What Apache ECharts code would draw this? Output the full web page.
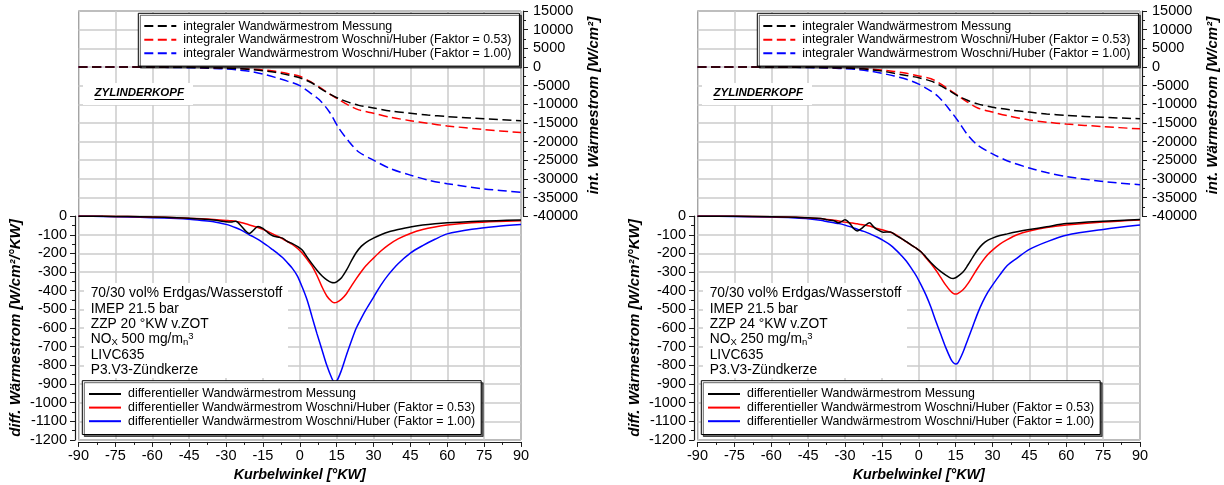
<!DOCTYPE html>
<html>
<head>
<meta charset="utf-8">
<script src="https://cdn.jsdelivr.net/npm/echarts@6/dist/echarts.min.js"></script>
<style>
  html, body { margin: 0; padding: 0; background: #fff; }
  #wrap { position: relative; width: 1224px; height: 485px; overflow: hidden; }
  .panel { position: absolute; top: 0; height: 485px; }
</style>
</head>
<body>
<div id="wrap">
  <div id="panelA" class="panel" style="left:0;width:612px"></div>
  <div id="panelB" class="panel" style="left:619px;width:605px"></div>
</div>
<script>
// ---------- Panel A: ZZP 20 °KW v.ZOT, NOx 500 ----------
const angleDiffA = [-90,-80,-70,-60,-50,-45,-40,-35,-30,-28,-26,-24,-22,-20.5,-19,-17,-15,-13,-11,-9,-7,-5,-3,-1,1,3,5,7,9,11,13,14,15,17,19,21,23,25,27,30,33,36,40,45,50,55,60,70,80,90];
const diffMessA  = [0,-1,-2,-4,-8,-11,-15,-21,-30,-32,-27,-50,-80,-93,-78,-55,-66,-88,-105,-112,-118,-136,-147,-162,-182,-220,-256,-290,-320,-342,-356,-357,-352,-330,-290,-240,-195,-162,-140,-118,-100,-85,-72,-58,-48,-41,-36,-29,-24,-21];
const diffWH053A = [0,-1,-2,-4,-8,-11,-14,-18,-23,-25,-28,-34,-41,-47,-53,-61,-71,-82,-95,-108,-121,-136,-152,-172,-198,-232,-268,-318,-378,-428,-458,-464,-462,-445,-416,-375,-335,-298,-265,-225,-187,-155,-122,-93,-72,-58,-48,-36,-29,-25];
const diffWH100A = [0,-2,-4,-8,-13,-17,-23,-30,-44,-52,-62,-74,-88,-100,-110,-125,-142,-160,-180,-200,-222,-250,-280,-320,-380,-450,-540,-630,-715,-800,-868,-888,-885,-825,-745,-670,-600,-548,-500,-435,-370,-315,-255,-198,-158,-124,-95,-70,-55,-45];

const angleIntA = [-90,-80,-70,-60,-50,-45,-40,-35,-30,-25,-20,-15,-10,-5,0,5,8,12,16,20,24,30,37,45,52,60,75,90];
const intMessA  = [0,0,-10,-20,-60,-100,-150,-230,-330,-480,-700,-1000,-1450,-2100,-2900,-4300,-5600,-7200,-8500,-9500,-10300,-11000,-11800,-12400,-12900,-13300,-13900,-14400];
const intWH053A = [0,0,-5,-15,-50,-80,-120,-190,-270,-400,-580,-800,-1150,-1750,-2500,-4200,-5400,-7200,-8800,-10300,-11500,-12400,-13500,-14400,-15100,-15800,-16800,-17600];
const intWH100A = [0,-10,-35,-80,-150,-210,-290,-400,-550,-800,-1200,-1900,-2800,-3800,-5000,-7300,-8800,-12000,-16500,-20000,-22800,-25000,-27300,-29000,-30300,-31300,-32700,-33600];

const infoA = ['70/30 vol% Erdgas/Wasserstoff', 'IMEP 21.5 bar', 'ZZP 20 °KW v.ZOT', 'NO{sub|X} 500 mg/m{sub|n}{sup|3}', 'LIVC635', 'P3.V3-Zündkerze'];

// ---------- Panel B: ZZP 24 °KW v.ZOT, NOx 250 ----------
const angleDiffB = [-90,-75,-60,-50,-45,-40,-37,-34.5,-32.5,-30,-28,-26.5,-25,-23.5,-22,-20,-18.5,-17,-14.5,-11.5,-9,-7,-5,-3,-1,1,3,5,7,9,11,13,14,15,16,18,20,22,24,26,28,30,33,36,40,45,52,60,75,90];
const diffMessB  = [0,-1,-3,-6,-9,-12,-20,-25,-36,-19,-40,-66,-79,-68,-52,-36,-55,-71,-86,-85,-106,-120,-137,-155,-172,-192,-220,-250,-275,-297,-316,-332,-334,-330,-322,-300,-262,-220,-180,-150,-130,-118,-104,-95,-84,-72,-57,-40,-27,-18];
const diffWH053B = [0,-1,-3,-6,-9,-13,-18,-22,-26,-32,-35,-38,-41,-45,-48,-53,-60,-66,-74,-86,-102,-120,-138,-155,-172,-192,-225,-255,-290,-330,-370,-403,-414,-418,-414,-395,-362,-320,-278,-240,-207,-182,-150,-126,-100,-80,-61,-48,-32,-21];
const diffWH100B = [0,-2,-5,-10,-14,-22,-30,-36,-40,-48,-56,-63,-70,-77,-83,-94,-103,-112,-130,-155,-185,-212,-242,-280,-320,-370,-425,-490,-565,-635,-705,-765,-785,-793,-785,-730,-660,-590,-520,-460,-410,-370,-315,-265,-225,-178,-138,-102,-71,-48];

const angleIntB = [-90,-80,-70,-60,-50,-45,-40,-35,-30,-25,-20,-15,-10,-5,0,5,8,12,16,20,24,30,37,45,52,60,75,90];
const intMessB  = [0,0,-5,-15,-50,-80,-130,-200,-300,-450,-700,-1100,-1700,-2300,-2900,-3800,-4700,-6200,-7800,-9000,-9900,-10800,-11500,-12100,-12600,-13000,-13500,-13900];
const intWH053B = [0,0,-5,-10,-40,-60,-100,-160,-240,-360,-540,-800,-1200,-1700,-2400,-3150,-4200,-5900,-7700,-9500,-11000,-12100,-13200,-14200,-14800,-15300,-16000,-16600];
const intWH100B = [0,-10,-25,-50,-100,-150,-220,-310,-480,-700,-1100,-1700,-2400,-3300,-4600,-6500,-8000,-11000,-14500,-18300,-21000,-23300,-25400,-27100,-28300,-29400,-30700,-31600];

const infoB = ['70/30 vol% Erdgas/Wasserstoff', 'IMEP 21.5 bar', 'ZZP 24 °KW v.ZOT', 'NO{sub|X} 250 mg/m{sub|n}{sup|3}', 'LIVC635', 'P3.V3-Zündkerze'];

// ---------- shared labels ----------
const diffNames = [
  'differentieller Wandwärmestrom Messung',
  'differentieller Wandwärmestrom Woschni/Huber (Faktor = 0.53)',
  'differentieller Wandwärmestrom Woschni/Huber (Faktor = 1.00)'
];
const intNames = [
  'integraler Wandwärmestrom Messung',
  'integraler Wandwärmestrom Woschni/Huber (Faktor = 0.53)',
  'integraler Wandwärmestrom Woschni/Huber (Faktor = 1.00)'
];
const seriesColors = ['#000000', '#ff0000', '#0000ff'];

const FONT = '"Liberation Sans", Arial, sans-serif';
// plot frame geometry; 23 horizontal grid steps shared by both value axes
const FRAME = { left: 78.5, top: 11, width: 442.5, step: 18.65 };

function pairs(xs, ys) { return xs.map((x, i) => [x, ys[i]]); }
// plain integers, no thousands separator
function plain(v) { return String(Math.round(v)); }

function buildPanel(el, p) {
  const chart = echarts.init(el, null, { renderer: 'canvas' });
  const S = FRAME.step;

  const tickFont = { color: '#000', fontFamily: FONT, fontSize: 14.5, formatter: plain,
                     showMinLabel: true, showMaxLabel: true, hideOverlap: false };
  const nameFont = { color: '#000', fontFamily: FONT, fontSize: 15, fontWeight: 'bold', fontStyle: 'italic' };
  const axisLine = { show: true, onZero: false, lineStyle: { color: '#1a1a1a', width: 1.2 } };
  const axisTick = { show: true, inside: false, length: 5, lineStyle: { color: '#1a1a1a', width: 1 } };
  const minorTick = { show: true, splitNumber: 2, length: 3, lineStyle: { color: '#1a1a1a', width: 1 } };
  const gridLine = { show: true, lineStyle: { color: '#cbcbcb', width: 1.5 } };

  const grid = [
    { left: FRAME.left, top: FRAME.top, width: FRAME.width, height: 23 * S, show: true,
      borderColor: '#333', borderWidth: 1, backgroundColor: 'transparent', containLabel: false, outerBoundsMode: 'none' },
    { left: FRAME.left, top: FRAME.top + 11 * S, width: FRAME.width, height: 12 * S, containLabel: false, outerBoundsMode: 'none' },
    { left: FRAME.left, top: FRAME.top, width: FRAME.width, height: 11 * S, containLabel: false, outerBoundsMode: 'none' }
  ];

  const xAxis = [
    { type: 'value', gridIndex: 0, min: -90, max: 90, interval: 15, offset: 2,
      axisLine, axisTick, minorTick, splitLine: gridLine,
      axisLabel: { ...tickFont, margin: 7 },
      name: 'Kurbelwinkel [°KW]', nameLocation: 'middle', nameGap: 26,
      nameTextStyle: { ...nameFont, fontSize: 14.3 }, nameMoveOverlap: false },
    { type: 'value', gridIndex: 1, min: -90, max: 90, show: false },
    { type: 'value', gridIndex: 2, min: -90, max: 90, show: false }
  ];

  const yAxis = [
    { type: 'value', gridIndex: 0, min: -1200, max: 1100, interval: 100,
      axisLine: { show: false }, axisTick: { show: false }, axisLabel: { show: false }, splitLine: gridLine },
    { type: 'value', gridIndex: 1, position: 'left', min: -1200, max: 0, interval: 100, offset: 3.5,
      axisLine, axisTick, minorTick, splitLine: { show: false },
      axisLabel: { ...tickFont, margin: 8 },
      name: 'diff. Wärmestrom [W/cm²/°KW]', nameLocation: 'middle', nameGap: 52,
      nameTextStyle: nameFont, nameMoveOverlap: false },
    { type: 'value', gridIndex: 2, position: 'right', min: -40000, max: 15000, interval: 5000, offset: 2,
      axisLine, axisTick, minorTick, splitLine: { show: false },
      axisLabel: { ...tickFont, margin: 10 },
      name: 'int. Wärmestrom [W/cm²]', nameLocation: 'middle', nameGap: 63,
      nameTextStyle: { ...nameFont, padding: [0, 0, 0, 16] }, nameMoveOverlap: false }
  ];

  const series = [];
  // blue underneath, black on top
  for (let i = 2; i >= 0; i--) {
    series.push({
      name: intNames[i], type: 'line', xAxisIndex: 2, yAxisIndex: 2,
      data: pairs(p.angleInt, p.int[i]), symbol: 'none', smooth: 0.3, clip: false,
      lineStyle: { color: seriesColors[i], width: 1.5, type: [9, 4.5] },
      itemStyle: { color: seriesColors[i] }
    });
  }
  for (let i = 2; i >= 0; i--) {
    series.push({
      name: diffNames[i], type: 'line', xAxisIndex: 1, yAxisIndex: 1,
      data: pairs(p.angleDiff, p.diff[i]), symbol: 'none', smooth: 0.3, clip: false,
      lineStyle: { color: seriesColors[i], width: 1.5 },
      itemStyle: { color: seriesColors[i] }
    });
  }

  const legendBase = {
    orient: 'vertical', itemGap: 0, itemWidth: 32, itemHeight: 13.6,
    backgroundColor: '#fff', borderColor: '#000', borderWidth: 1,
    shadowColor: 'rgba(0,0,0,0.6)', shadowBlur: 0, shadowOffsetX: 2, shadowOffsetY: 2,
    selectedMode: false,
    itemStyle: { opacity: 0, borderWidth: 0 },
    textStyle: { fontFamily: FONT, fontSize: 12.4, color: '#000', lineHeight: 13.6, padding: [0, 0, 0, 2] }
  };

  const legend = [
    { ...legendBase, data: intNames, left: 138.3, top: 13.3, padding: [6, 8, 6, 5] },
    { ...legendBase, data: diffNames, left: 82.3, top: 380.7, padding: [6.5, 6, 6.5, 5.7] }
  ];

  const infoFont = { fontFamily: FONT, fontSize: 13.8, fill: '#000' };
  const graphic = [
    { type: 'rect', z: 10, shape: { x: 83, y: 83, width: 110, height: 22 }, style: { fill: '#fff' } },
    { type: 'text', z: 11, x: 94.5, y: 93.3,
      style: { text: 'ZYLINDERKOPF', fontFamily: FONT, fontSize: 11.5, fontWeight: 'bold', fontStyle: 'italic',
               fill: '#000', verticalAlign: 'middle', align: 'left' } },
    { type: 'line', z: 11, shape: { x1: 94.5, y1: 99.5, x2: 184, y2: 99.5 }, style: { stroke: '#000', lineWidth: 1 } },
    { type: 'rect', z: 10, shape: { x: 84, y: 283, width: 204, height: 95 }, style: { fill: '#fff' } },
    { type: 'text', z: 11, x: 90.7, y: 285.6,
      style: { text: p.info.join('\n'), ...infoFont, lineHeight: 15.4, verticalAlign: 'top', align: 'left',
               rich: {
                 sub: { fontFamily: FONT, fontSize: 9.5, lineHeight: 9.5, fill: '#000', verticalAlign: 'bottom' },
                 sup: { fontFamily: FONT, fontSize: 9.5, lineHeight: 9.5, fill: '#000', verticalAlign: 'top' }
               } } }
  ];

  chart.setOption({
    animation: false,
    backgroundColor: '#fff',
    textStyle: { fontFamily: FONT },
    grid, xAxis, yAxis, series, legend, graphic
  });
  return chart;
}

buildPanel(document.getElementById('panelA'), {
  angleDiff: angleDiffA, diff: [diffMessA, diffWH053A, diffWH100A],
  angleInt: angleIntA, int: [intMessA, intWH053A, intWH100A],
  info: infoA
});
buildPanel(document.getElementById('panelB'), {
  angleDiff: angleDiffB, diff: [diffMessB, diffWH053B, diffWH100B],
  angleInt: angleIntB, int: [intMessB, intWH053B, intWH100B],
  info: infoB
});
</script>
</body>
</html>
